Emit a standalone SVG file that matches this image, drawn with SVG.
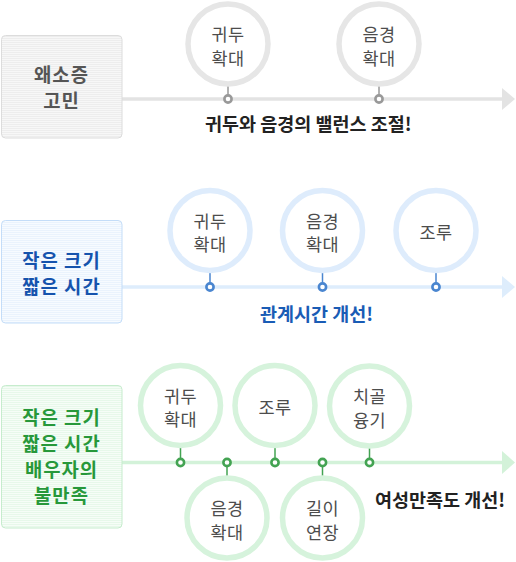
<svg xmlns="http://www.w3.org/2000/svg" width="516" height="562" viewBox="0 0 516 562">
<defs>
<pattern id="pg" width="4" height="2" patternUnits="userSpaceOnUse"><rect width="4" height="2" fill="#f7f7f7"/><rect width="4" height="1" fill="#ededed"/></pattern>
<pattern id="pb" width="4" height="2" patternUnits="userSpaceOnUse"><rect width="4" height="2" fill="#f7fbff"/><rect width="4" height="1" fill="#eaf3fd"/></pattern>
<pattern id="pn" width="4" height="2" patternUnits="userSpaceOnUse"><rect width="4" height="2" fill="#f6fdf7"/><rect width="4" height="1" fill="#e7f8ea"/></pattern>
<style>
text{font-family:"Noto Sans CJK KR","Noto Sans",sans-serif}
.box-g{fill:url(#pg);stroke:#dcdcdc;stroke-width:1}
.box-b{fill:url(#pb);stroke:#c4ddf8;stroke-width:1}
.box-n{fill:url(#pn);stroke:#c6eccd;stroke-width:1}
.bt{font-size:18.8px;font-weight:bold;text-anchor:middle;letter-spacing:1px}
.bt-g{fill:#555555}
.bt-b{fill:#1553ad}
.bt-n{fill:#27983a}
.ring{fill:#ffffff;stroke-width:5.5}
.ring-g{stroke:#e6e6e6}
.ring-b{stroke:#deecfc}
.ring-n{stroke:#d6f3dc}
.ct{font-size:17.5px;fill:#4d4d4d;text-anchor:middle;letter-spacing:0.5px}
.cap{font-size:18.5px;font-weight:bold}
.ln-g{stroke:#e3e3e3;stroke-width:3.5}
.ln-b{stroke:#deedfc;stroke-width:3.5}
.ln-n{stroke:#d3f2d9;stroke-width:3.5}
.ah-g{fill:#e3e3e3}
.ah-b{fill:#deedfc}
.ah-n{fill:#d3f2d9}
.st-g{stroke:#999999;stroke-width:1.5}
.st-b{stroke:#4a86d0;stroke-width:1.5}
.st-n{stroke:#43a352;stroke-width:1.5}
.dot{fill:#ffffff;stroke-width:2.6}
.dot-g{stroke:#999999}
.dot-b{stroke:#4a86d0}
.dot-n{stroke:#43a352}
</style>
</defs>

<g id="connectors">
  <line class="ln-g" x1="122" y1="99" x2="503" y2="99"/>
  <polygon class="ah-g" points="502,88 515,99 502,110"/>
  <line class="st-g" x1="228" y1="86" x2="228" y2="95"/>
  <line class="st-g" x1="379" y1="86" x2="379" y2="95"/>

  <line class="ln-b" x1="122" y1="287" x2="503" y2="287"/>
  <polygon class="ah-b" points="502,276 515,287 502,298"/>
  <line class="st-b" x1="210" y1="273" x2="210" y2="283"/>
  <line class="st-b" x1="322.5" y1="273" x2="322.5" y2="283"/>
  <line class="st-b" x1="436" y1="273" x2="436" y2="283"/>

  <line class="ln-n" x1="122" y1="462.5" x2="503" y2="462.5"/>
  <polygon class="ah-n" points="502,451 515,462.5 502,474"/>
  <line class="st-n" x1="180.5" y1="448" x2="180.5" y2="459"/>
  <line class="st-n" x1="275" y1="448" x2="275" y2="459"/>
  <line class="st-n" x1="369.5" y1="448" x2="369.5" y2="459"/>
  <line class="st-n" x1="227" y1="466" x2="227" y2="476"/>
  <line class="st-n" x1="322.5" y1="466" x2="322.5" y2="476"/>
</g>

<g id="box1">
  <rect class="box-g" x="1.5" y="35.5" width="120.5" height="102.5" rx="4"/>
  <text class="bt bt-g" x="61.5" y="82">왜소증</text>
  <text class="bt bt-g" x="61.5" y="108">고민</text>
</g>
<g id="s1-glans">
  <circle class="ring ring-g" cx="228" cy="44" r="40"/>
  <text class="ct" x="228" y="41">귀두</text>
  <text class="ct" x="228" y="64.5">확대</text>
</g>
<g id="s1-penis">
  <circle class="ring ring-g" cx="379" cy="44" r="40"/>
  <text class="ct" x="379" y="41">음경</text>
  <text class="ct" x="379" y="64.5">확대</text>
</g>
<g id="s1-dots">
  <circle class="dot dot-g" cx="228" cy="99" r="3.6"/>
  <circle class="dot dot-g" cx="379" cy="99" r="3.6"/>
</g>
<text id="cap1" class="cap" x="205" y="131" fill="#222222">귀두와 음경의 밸런스 조절!</text>

<g id="box2">
  <rect class="box-b" x="1.5" y="220.5" width="120.5" height="102.5" rx="4"/>
  <text class="bt bt-b" x="61.5" y="268">작은 크기</text>
  <text class="bt bt-b" x="61.5" y="294">짧은 시간</text>
</g>
<g id="s2-glans">
  <circle class="ring ring-b" cx="210" cy="230.5" r="40"/>
  <text class="ct" x="210" y="227.5">귀두</text>
  <text class="ct" x="210" y="251">확대</text>
</g>
<g id="s2-penis">
  <circle class="ring ring-b" cx="322.5" cy="230.5" r="40"/>
  <text class="ct" x="322.5" y="227.5">음경</text>
  <text class="ct" x="322.5" y="251">확대</text>
</g>
<g id="s2-pe">
  <circle class="ring ring-b" cx="436" cy="230.5" r="40"/>
  <text class="ct" x="436" y="238.5">조루</text>
</g>
<g id="s2-dots">
  <circle class="dot dot-b" cx="210" cy="287" r="3.6"/>
  <circle class="dot dot-b" cx="322.5" cy="287" r="3.6"/>
  <circle class="dot dot-b" cx="436" cy="287" r="3.6"/>
</g>
<text id="cap2" class="cap" x="260" y="321" fill="#1a5cb5">관계시간 개선!</text>

<g id="box3">
  <rect class="box-n" x="1.5" y="385.5" width="120.5" height="142.5" rx="4"/>
  <text class="bt bt-n" x="61.5" y="425">작은 크기</text>
  <text class="bt bt-n" x="61.5" y="451">짧은 시간</text>
  <text class="bt bt-n" x="61.5" y="477">배우자의</text>
  <text class="bt bt-n" x="61.5" y="503">불만족</text>
</g>
<g id="s3-glans">
  <circle class="ring ring-n" cx="180.5" cy="405.5" r="40"/>
  <text class="ct" x="180.5" y="402.5">귀두</text>
  <text class="ct" x="180.5" y="426">확대</text>
</g>
<g id="s3-pe">
  <circle class="ring ring-n" cx="275" cy="405.5" r="40"/>
  <text class="ct" x="275" y="414">조루</text>
</g>
<g id="s3-pubic">
  <circle class="ring ring-n" cx="369.5" cy="406" r="40"/>
  <text class="ct" x="369.5" y="403">치골</text>
  <text class="ct" x="369.5" y="426.5">융기</text>
</g>
<g id="s3-penis">
  <circle class="ring ring-n" cx="227" cy="518" r="40"/>
  <text class="ct" x="227" y="515">음경</text>
  <text class="ct" x="227" y="538.5">확대</text>
</g>
<g id="s3-length">
  <circle class="ring ring-n" cx="322.5" cy="518" r="40"/>
  <text class="ct" x="322.5" y="515">길이</text>
  <text class="ct" x="322.5" y="538.5">연장</text>
</g>
<g id="s3-dots">
  <circle class="dot dot-n" cx="180.5" cy="462.5" r="3.6"/>
  <circle class="dot dot-n" cx="227" cy="462.5" r="3.6"/>
  <circle class="dot dot-n" cx="275" cy="462.5" r="3.6"/>
  <circle class="dot dot-n" cx="322.5" cy="462.5" r="3.6"/>
  <circle class="dot dot-n" cx="369.5" cy="462.5" r="3.6"/>
</g>
<text id="cap3" class="cap" x="375" y="507" fill="#222222">여성만족도 개선!</text>
</svg>
